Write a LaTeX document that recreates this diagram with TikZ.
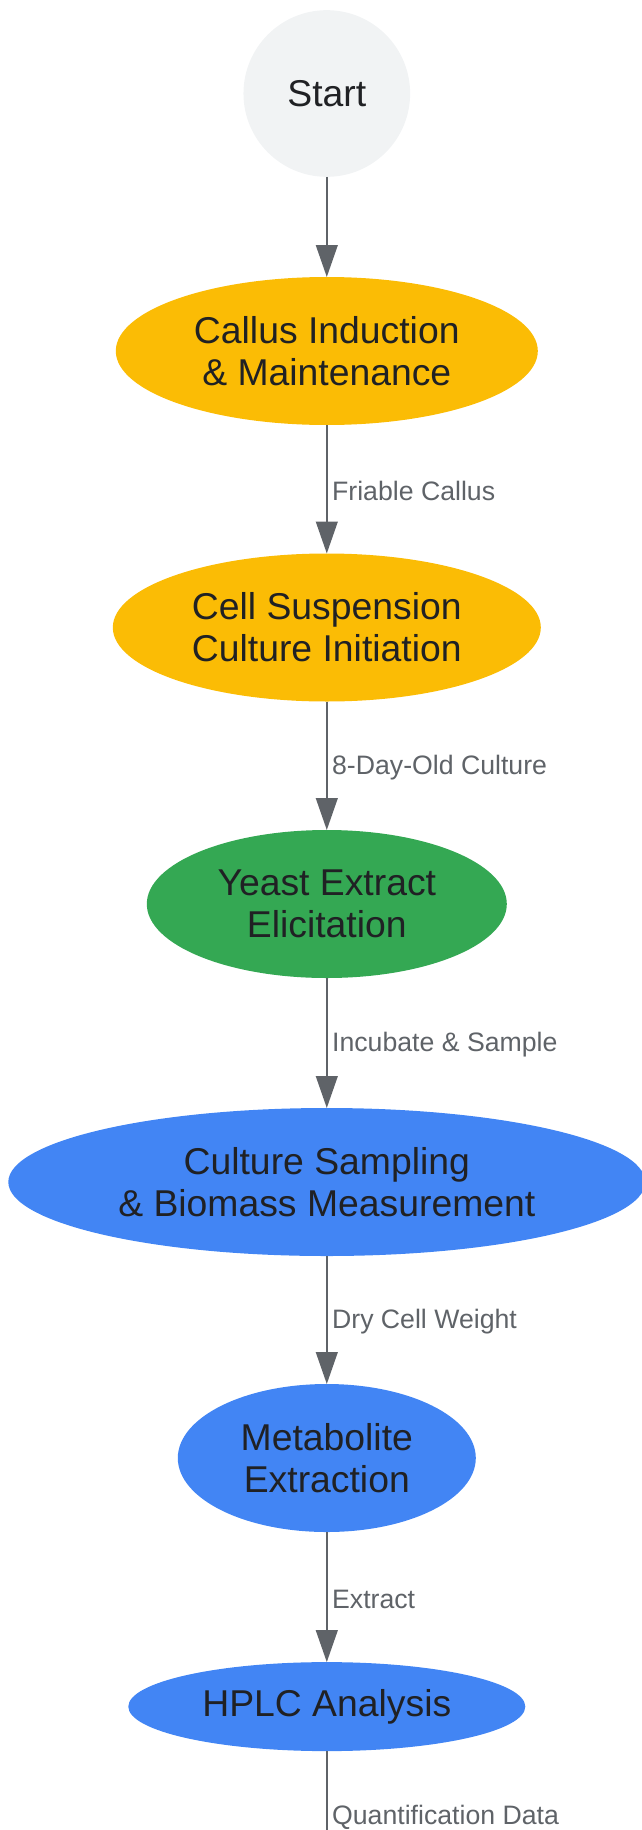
\documentclass[tikz,border=0pt]{standalone}
\usepackage{fontspec}
\setmainfont{Liberation Sans}
\usetikzlibrary{shapes.geometric,arrows.meta}
\definecolor{startgray}{HTML}{F1F3F4}
\definecolor{textdark}{HTML}{202124}
\definecolor{stageyellow}{HTML}{FBBC05}
\definecolor{stagegreen}{HTML}{34A853}
\definecolor{stageblue}{HTML}{4285F4}
\definecolor{arrowgray}{HTML}{5F6368}

\begin{document}
\begin{tikzpicture}[x=0.75pt, y=-0.75pt,
  every node/.style={inner sep=0pt, outer sep=0pt, align=center, text=textdark, font=\fontsize{28}{31.5}\selectfont},
  stage/.style={ellipse, minimum height=111pt},
  flow/.style={draw=arrowgray, line width=1.5pt, -{Triangle[length=24pt,width=16.3pt]}},
  lbl/.style={right, xshift=4pt, yshift=-1.5pt, text=arrowgray, font=\fontsize{20}{24}\selectfont}]
\clip (0,0) rectangle (642,1830);

\node[circle, fill=startgray, minimum size=125pt] (start) at (326.8,93.5) {Start};
\node[stage, fill=stageyellow, minimum width=316.5pt] (callus) at (326.8,351) {Callus Induction\\\& Maintenance};
\node[stage, fill=stageyellow, minimum width=321pt] (cellsusp) at (326.8,627.5) {Cell Suspension\\Culture Initiation};
\node[stage, fill=stagegreen, minimum width=270pt] (yeast) at (326.8,904) {Yeast Extract\\Elicitation};
\node[stage, fill=stageblue, minimum width=477.75pt] (sampling) at (326.8,1182) {Culture Sampling\\\& Biomass Measurement};
\node[stage, fill=stageblue, minimum width=223.5pt] (extract) at (326.8,1458) {Metabolite\\Extraction};
\node[ellipse, fill=stageblue, minimum width=297.75pt, minimum height=66.75pt] (hplc) at (326.8,1706.6) {HPLC Analysis};
\coordinate (quantend) at (326.8,1879);

\draw[flow] (start) -- (callus);
\draw[flow] (callus) -- node[lbl] {Friable Callus} (cellsusp);
\draw[flow] (cellsusp) -- node[lbl] {8-Day-Old Culture} (yeast);
\draw[flow] (yeast) -- node[lbl] {Incubate \& Sample} (sampling);
\draw[flow] (sampling) -- node[lbl] {Dry Cell Weight} (extract);
\draw[flow] (extract) -- node[lbl] {Extract} (hplc);
\draw[draw=arrowgray, line width=1.5pt] (hplc) -- node[lbl] {Quantification Data} (quantend);
\end{tikzpicture}
\end{document}
